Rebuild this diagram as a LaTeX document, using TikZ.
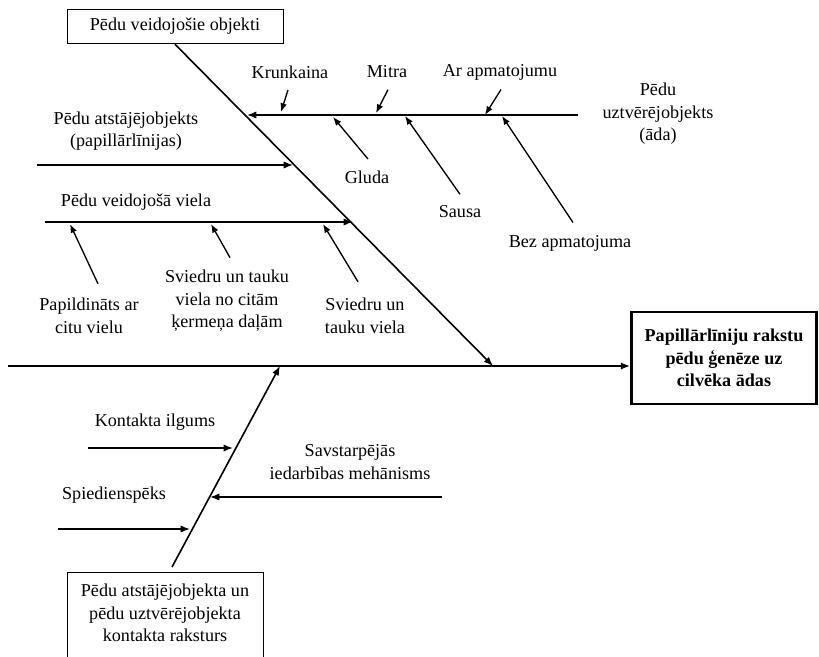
\documentclass[tikz,border=0pt]{standalone}
\usepackage{fontspec}
\setmainfont{Liberation Serif}
\usetikzlibrary{arrows.meta,calc}

\begin{document}
\begin{tikzpicture}[x=0.75pt,y=-0.75pt,
    txt/.style={align=center,inner sep=1pt,font=\fontsize{13.6}{16.9}\selectfont},
    box/.style={txt,draw,line width=0.6pt},
    bone/.style={line width=1.2pt,-{Latex[length=7pt,width=5.5pt]}},
    rib/.style={line width=1pt,-{Latex[length=6.5pt,width=5pt]}}]
               \useasboundingbox (0,0) rectangle (819,657);
               \node[box,minimum width=162pt,minimum height=26pt] (objekti) at (175,26.5) {Pēdu veidojošie objekti};
               \node[box,line width=1.8pt,minimum width=139pt,minimum height=69pt,font=\fontsize{13.6}{16.9}\selectfont\bfseries] (geneze) at (724,358) {Papillārlīniju rakstu\\pēdu ģenēze uz\\cilvēka ādas};
               \node[box,minimum width=147pt,minimum height=67pt,anchor=north] (kontakts) at (165,572) {};
               \node[txt] (kontaktsTxt) at (165,613) {Pēdu atstājējobjekta un\\pēdu uztvērējobjekta\\kontakta raksturs};
               \coordinate (tail) at (8,366);
               \coordinate (j1) at (493,366);
               \coordinate (j2) at (280,366);
               \coordinate (lowStart) at (172,567);
               \draw[bone] (tail) -- (tail -| geneze.west);
               \draw[bone] (objekti.south) -- (j1);
               \draw[bone] (lowStart) -- (j2);
               \node[txt] (ada) at (658,114) {Pēdu\\uztvērējobjekts\\(āda)};
               \node[txt] (atst) at (126,131) {Pēdu atstājējobjekts\\(papillārlīnijas)};
               \node[txt] (viela) at (136,202) {Pēdu veidojošā viela};
               \coordinate (r1) at (578,115);
               \coordinate (s1) at (247,115);
               \coordinate (r2) at (37,165);
               \coordinate (s2) at (293,165);
               \coordinate (r3) at (45,222);
               \coordinate (s3) at (353,222);
               \draw[bone] (r1) -- (s1);
               \draw[bone] (r2) -- (s2);
               \draw[bone] (r3) -- (s3);
               \node[txt] (krunk) at (290,72) {Krunkaina};
               \node[txt] (mitra) at (387,72) {Mitra};
               \node[txt] (arap) at (500,72) {Ar apmatojumu};
               \node[txt] (gluda) at (367,177) {Gluda};
               \node[txt] (sausa) at (460,212) {Sausa};
               \node[txt] (bezap) at (570,243) {Bez apmatojuma};
               \draw[rib] ($(krunk.south)+(-2,10)$) -- (281,112);
               \draw[rib] ($(mitra.south)+(1,10)$) -- (376,113);
               \draw[rib] ($(arap.south)+(1,8)$) -- (485,115);
               \draw[rib] ($(gluda.north)+(1,-10)$) -- (333,117);
               \draw[rib] ($(sausa.north)+(0,-10)$) -- (405,116);
               \draw[rib] ($(bezap.north)+(3,-11)$) -- (502,116);
               \node[txt] (papild) at (89,316) {Papildināts ar\\citu vielu};
               \node[txt] (citas) at (227,301) {Sviedru un tauku\\viela no citām\\ķermeņa daļām};
               \node[txt] (sviedri) at (365,316) {Sviedru un\\tauku viela};
               \draw[rib] ($(papild.north)+(9,-13)$) -- (70,224);
               \draw[rib] ($(citas.north)+(3,-11)$) -- (211,224);
               \draw[rib] ($(sviedri.north)+(-7,-15)$) -- (323,224);
               \node[txt] (ilgums) at (155,422) {Kontakta ilgums};
               \node[txt] (spied) at (114,495) {Spiedienspēks};
               \node[txt] (mehan) at (350,462) {Savstarpējās\\iedarbības mehānisms};
               \coordinate (k1) at (88,448);
               \coordinate (k2) at (58,529);
               \coordinate (k3) at (442,497);
               \draw[bone] (k1) -- (233,448);
               \draw[bone] (k2) -- (190,529);
               \draw[bone] (k3) -- (210,497);
           \end{tikzpicture}
\end{document}
